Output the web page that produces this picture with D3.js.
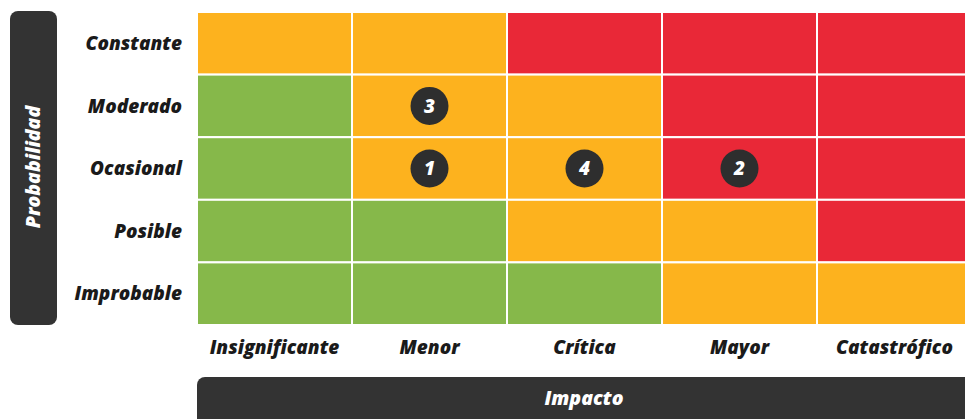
<!DOCTYPE html>
<html>
<head>
<meta charset="utf-8">
<title>Matriz de riesgos</title>
<script src="https://cdn.jsdelivr.net/npm/d3@7/dist/d3.min.js"></script>
<style>
  body { margin: 0; background: #fff; }
  svg { display: block; }
  .lbl { font-family: "Open Sans", sans-serif; font-weight: 800; font-style: italic; font-size: 19px; }
</style>
</head>
<body>
<svg id="chart" width="965" height="419"></svg>
<script>
// filas de arriba a abajo, columnas de izquierda a derecha
var probabilidad = ["Constante", "Moderado", "Ocasional", "Posible", "Improbable"];
var impacto = ["Insignificante", "Menor", "Crítica", "Mayor", "Catastrófico"];

// nivel de riesgo por fila (G = bajo, O = medio, R = alto)
var niveles = [
  ["O", "O", "R", "R", "R"],
  ["G", "O", "O", "R", "R"],
  ["G", "O", "O", "R", "R"],
  ["G", "G", "O", "O", "R"],
  ["G", "G", "G", "O", "O"]
];

var riesgos = [
  { id: "3", prob: "Moderado", imp: "Menor" },
  { id: "1", prob: "Ocasional", imp: "Menor" },
  { id: "4", prob: "Ocasional", imp: "Crítica" },
  { id: "2", prob: "Ocasional", imp: "Mayor" }
];

var colores = { G: "#86b84a", O: "#fdb21e", R: "#e92837" };

var svg = d3.select("#chart");

var x = d3.scaleBand().domain(impacto).range([197, 972]);
var y = d3.scaleBand().domain(probabilidad).range([12, 325]);

// celdas
var celdas = [];
probabilidad.forEach(function(p, i) {
  impacto.forEach(function(c, j) {
    celdas.push({ prob: p, imp: c, nivel: niveles[i][j] });
  });
});

svg.append("g").selectAll("rect")
  .data(celdas)
  .enter().append("rect")
  .attr("x", function(d) { return x(d.imp); })
  .attr("y", function(d) { return y(d.prob); })
  .attr("width", x.bandwidth())
  .attr("height", y.bandwidth())
  .attr("fill", function(d) { return colores[d.nivel]; })
  .attr("stroke", "#fff")
  .attr("stroke-width", 2);

// marcadores
var m = svg.append("g").selectAll("g")
  .data(riesgos)
  .enter().append("g")
  .attr("transform", function(d) {
    return "translate(" + (x(d.imp) + x.bandwidth() / 2) + "," + (y(d.prob) + y.bandwidth() / 2) + ")";
  });
m.append("circle").attr("r", 19).attr("fill", "#2e2e2e");
m.append("text")
  .attr("class", "lbl")
  .attr("text-anchor", "middle")
  .attr("dy", "0.36em")
  .attr("fill", "#fff")
  .text(function(d) { return d.id; });

// etiquetas de filas
svg.append("g").selectAll("text")
  .data(probabilidad)
  .enter().append("text")
  .attr("class", "lbl")
  .attr("x", 182)
  .attr("y", function(d) { return y(d) + y.bandwidth() / 2; })
  .attr("dy", "0.35em")
  .attr("text-anchor", "end")
  .attr("fill", "#1a1a1a")
  .text(function(d) { return d; });

// etiquetas de columnas
svg.append("g").selectAll("text")
  .data(impacto)
  .enter().append("text")
  .attr("class", "lbl")
  .attr("x", function(d) { return x(d) + x.bandwidth() / 2; })
  .attr("y", 347)
  .attr("dy", "0.35em")
  .attr("text-anchor", "middle")
  .attr("fill", "#1a1a1a")
  .text(function(d) { return d; });

// caja vertical "Probabilidad"
svg.append("rect")
  .attr("x", 10).attr("y", 11)
  .attr("width", 47).attr("height", 314)
  .attr("rx", 8)
  .attr("fill", "#333");
svg.append("text")
  .attr("class", "lbl")
  .attr("transform", "translate(33,167) rotate(-90)")
  .attr("text-anchor", "middle")
  .attr("dy", "0.35em")
  .attr("fill", "#fff")
  .style("font-size", "19.5px")
  .text("Probabilidad");

// caja horizontal "Impacto"
svg.append("rect")
  .attr("x", 197).attr("y", 377)
  .attr("width", 790).attr("height", 60)
  .attr("rx", 8)
  .attr("fill", "#333");
svg.append("text")
  .attr("class", "lbl")
  .attr("x", 584).attr("y", 398)
  .attr("text-anchor", "middle")
  .attr("dy", "0.35em")
  .attr("fill", "#fff")
  .style("font-size", "19.5px")
  .text("Impacto");
</script>
</body>
</html>
